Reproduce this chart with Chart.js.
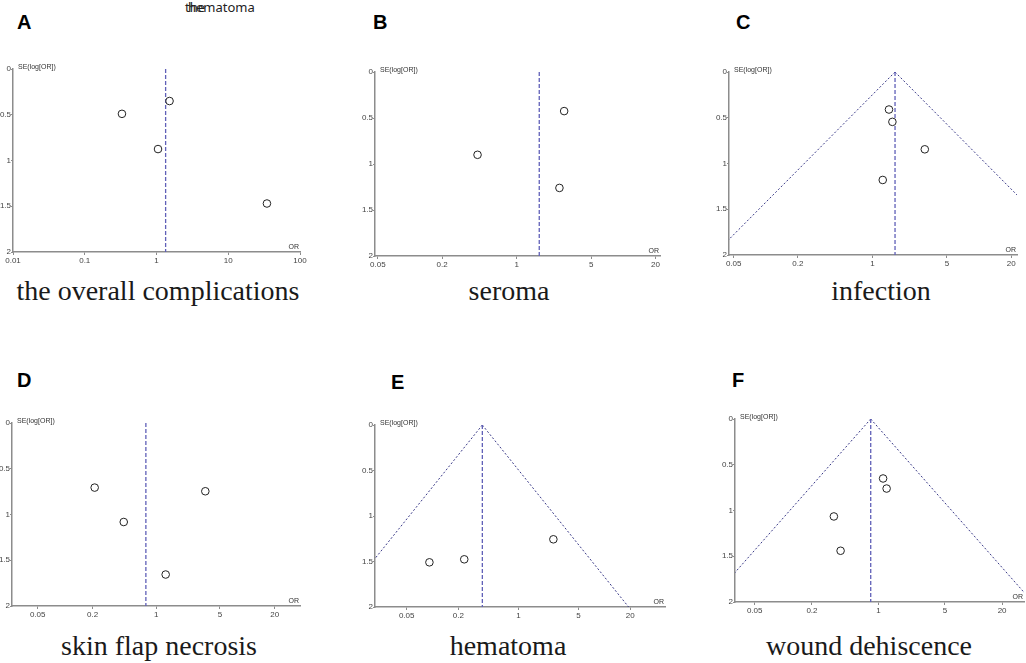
<!DOCTYPE html>
<html>
<head>
<meta charset="utf-8">
<script src="https://cdn.jsdelivr.net/npm/chart.js@4.4.1/dist/chart.umd.min.js"></script>
<style>
body { margin: 0; background: #fff; width: 1026px; height: 663px; overflow: hidden; position: relative; }
canvas { position: absolute; }
.letter { position: absolute; font: bold 20px "Liberation Sans", Arial, sans-serif; line-height: 20px; color: #000; }
.cap { position: absolute; width: 340px; text-align: center; font-family: "Liberation Serif", serif; font-size: 28px; line-height: 28px; color: #1a1a1a; }
.stray { position: absolute; font: 13px "Noto Sans", sans-serif; line-height: 13px; color: #222; }
</style>
</head>
<body>
<div class="stray" style="left:185px;top:1px">the</div>
<div class="stray" style="left:188px;top:1px">hematoma</div>

<script>
// Odds ratios and SE(log[OR])
const overallOR = [0.33, 1.52, 1.05, 34.6];
const overallSE = [0.49, 0.35, 0.875, 1.47];
const seromaOR = [0.43, 2.79, 2.52];
const seromaSE = [0.90, 0.425, 1.26];
const infectionOR = [1.43, 1.54, 3.1, 1.25];
const infectionSE = [0.41, 0.545, 0.845, 1.18];
const necrosisOR = [0.211, 0.44, 3.46, 1.27];
const necrosisSE = [0.706, 1.082, 0.746, 1.656];
const hematomaOR = [0.092, 0.234, 2.55];
const hematomaSE = [1.509, 1.476, 1.256];
const dehiscenceOR = [1.12, 1.22, 0.34, 0.40];
const dehiscenceSE = [0.65, 0.76, 1.065, 1.44];

// pooled OR (vertical dashed line) per panel
const pooledOR = [1.34, 1.63, 1.63, 0.77, 0.38, 0.83];
const showFunnel = [false, false, true, false, true, true];

const panelLetters = ['A', 'B', 'C', 'D', 'E', 'F'];
const captions = ['the overall complications', 'seroma', 'infection', 'skin flap necrosis', 'hematoma', 'wound dehiscence'];

// tick labels
const xTicksWide = [0.01, 0.1, 1, 10, 100];
const xTicksNarrow = [0.05, 0.2, 1, 5, 20];
const yTicks = [0, 0.5, 1, 1.5, 2];

const seriesOR = [overallOR, seromaOR, infectionOR, necrosisOR, hematomaOR, dehiscenceOR];
const seriesSE = [overallSE, seromaSE, infectionSE, necrosisSE, hematomaSE, dehiscenceSE];
const seriesTicks = [xTicksWide, xTicksNarrow, xTicksNarrow, xTicksNarrow, xTicksNarrow, xTicksNarrow];

// plot area of each panel on the page, and its axis range
const panels = [
    { left: 13, top: 69, right: 300, bottom: 252, xmin: 0.01, xmax: 100 },
    { left: 375, top: 72, right: 660, bottom: 256, xmin: 0.047, xmax: 22.1 },
    { left: 729, top: 72, right: 1017, bottom: 255, xmin: 0.0452, xmax: 22.7 },
    { left: 12, top: 423, right: 300, bottom: 606, xmin: 0.0261, xmax: 37.9 },
    { left: 375, top: 425, right: 665, bottom: 607, xmin: 0.0214, xmax: 50.8 },
    { left: 735, top: 419, right: 1024, bottom: 602, xmin: 0.031, xmax: 34 }
];
const letterPos = [[17, 12], [373, 12], [736, 12], [17, 370], [391, 372], [732, 370]];
const captionPos = [[158, 277], [509, 277], [881, 277], [159, 632], [508, 632], [869, 632]];

const PAD_L = 30, PAD_T = 12, PAD_R = 14, PAD_B = 18;
const axisGray = '#8c8c8c';

// SE(log[OR]) and OR labels at the axis ends
const axisLabels = {
    id: 'axisLabels',
    afterDraw(chart) {
        const { ctx, chartArea: a } = chart;
        ctx.save();
        ctx.font = '7px "Liberation Sans", Arial, sans-serif';
        ctx.fillStyle = '#333';
        ctx.textBaseline = 'middle';
        ctx.fillText('SE(log[OR])', a.left + 5, a.top - 2);
        ctx.textAlign = 'right';
        ctx.textBaseline = 'bottom';
        ctx.fillText('OR', a.right - 1, a.bottom - 1);
        ctx.restore();
    }
};

panels.forEach((p, i) => {
    const canvas = document.createElement('canvas');
    const w = p.right - p.left + PAD_L + PAD_R;
    const h = p.bottom - p.top + PAD_T + PAD_B;
    canvas.width = w;
    canvas.height = h;
    canvas.style.width = w + 'px';
    canvas.style.height = h + 'px';
    canvas.style.left = (p.left - PAD_L) + 'px';
    canvas.style.top = (p.top - PAD_T) + 'px';
    document.body.appendChild(canvas);

    const pooled = pooledOR[i];
    const datasets = [{
        data: seriesOR[i].map((v, k) => ({ x: v, y: seriesSE[i][k] })),
        pointRadius: 3.8,
        pointBorderWidth: 1,
        pointBorderColor: '#222',
        pointBackgroundColor: '#fff'
    }, {
        data: [{ x: pooled, y: 0 }, { x: pooled, y: 2 }],
        showLine: true,
        pointRadius: 0,
        borderColor: '#6060b8',
        borderWidth: 1.3,
        borderDash: [4, 2]
    }];
    if (showFunnel[i]) {
        // pseudo 95% limits
        [-1, 1].forEach(side => {
            datasets.push({
                data: [{ x: pooled, y: 0 }, { x: pooled * Math.exp(side * 1.96 * 2), y: 2 }],
                showLine: true,
                pointRadius: 0,
                borderColor: '#3a3a88',
                borderWidth: 1,
                borderDash: [2, 2]
            });
        });
    }

    new Chart(canvas.getContext('2d'), {
        type: 'scatter',
        data: { datasets: datasets },
        options: {
            responsive: false,
            animation: false,
            events: [],
            layout: { padding: { left: 0, top: PAD_T, right: PAD_R, bottom: 0 } },
            plugins: { legend: { display: false }, tooltip: { enabled: false } },
            scales: {
                x: {
                    type: 'logarithmic',
                    min: p.xmin,
                    max: p.xmax,
                    afterBuildTicks: s => { s.ticks = seriesTicks[i].map(v => ({ value: v })); },
                    afterFit: s => { s.height = PAD_B; },
                    grid: { display: true, drawOnChartArea: false, drawTicks: true, tickLength: 3, color: axisGray },
                    border: { color: axisGray, width: 1.5 },
                    ticks: {
                        autoSkip: false, maxRotation: 0, padding: 1,
                        font: { size: 8, family: '"Liberation Sans", Arial, sans-serif' },
                        color: '#444',
                        callback: v => String(v)
                    }
                },
                y: {
                    type: 'linear',
                    reverse: true,
                    min: 0,
                    max: 2,
                    afterBuildTicks: s => { s.ticks = yTicks.map(v => ({ value: v })); },
                    afterFit: s => { s.width = PAD_L; },
                    grid: { display: true, drawOnChartArea: false, drawTicks: true, tickLength: 2, color: axisGray },
                    border: { color: axisGray, width: 1.5 },
                    ticks: {
                        padding: 0,
                        font: { size: 8, family: '"Liberation Sans", Arial, sans-serif' },
                        color: '#444',
                        callback: v => String(v)
                    }
                }
            }
        },
        plugins: [axisLabels]
    });

    const letter = document.createElement('div');
    letter.className = 'letter';
    letter.textContent = panelLetters[i];
    letter.style.left = letterPos[i][0] + 'px';
    letter.style.top = letterPos[i][1] + 'px';
    document.body.appendChild(letter);

    const cap = document.createElement('div');
    cap.className = 'cap';
    cap.textContent = captions[i];
    cap.style.left = (captionPos[i][0] - 170) + 'px';
    cap.style.top = captionPos[i][1] + 'px';
    document.body.appendChild(cap);
});
</script>
</body>
</html>
